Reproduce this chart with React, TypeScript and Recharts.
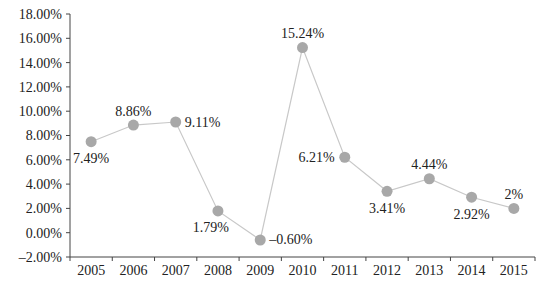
import { LineChart, Line, XAxis, YAxis, LabelList } from 'recharts';

const years = ['2005', '2006', '2007', '2008', '2009', '2010', '2011', '2012', '2013', '2014', '2015'];
const growth = [7.49, 8.86, 9.11, 1.79, -0.6, 15.24, 6.21, 3.41, 4.44, 2.92, 2.0];
const growthLabels = ['7.49%', '8.86%', '9.11%', '1.79%', '–0.60%', '15.24%', '6.21%', '3.41%', '4.44%', '2.92%', '2%'];
const yTicks = [-2, 0, 2, 4, 6, 8, 10, 12, 14, 16, 18];
const yTickLabels = ['–2.00%', '0.00%', '2.00%', '4.00%', '6.00%', '8.00%', '10.00%', '12.00%', '14.00%', '16.00%', '18.00%'];

// where each value label sits relative to its dot
const labelSides = ['bottom', 'top', 'right', 'bottom', 'right', 'top', 'left', 'bottom', 'top', 'bottom', 'top'];

const data = years.map((year, i) => ({ year, value: growth[i] }));

const font = '"Liberation Serif", "DejaVu Serif", serif';
const ink = '#222';
const axisColor = '#444';
const plotLeft = 70;
const plotRight = 535;
const halfBand = (plotRight - plotLeft) / years.length / 2;

function ValueLabel(props: any) {
  const { x, y, index } = props;
  const side = labelSides[index];
  let tx = x;
  let ty = y;
  let anchor: 'start' | 'middle' | 'end' = 'middle';
  if (side === 'top') ty = y - 14;
  if (side === 'bottom') ty = y + 17;
  if (side === 'right') {
    tx = x + 9;
    anchor = 'start';
  }
  if (side === 'left') {
    tx = x - 10;
    anchor = 'end';
  }
  if (index === 3) tx = x - 7;
  return (
    <text x={tx} y={ty} textAnchor={anchor} dominantBaseline="central" fontSize={14} fontFamily={font} fill={ink}>
      {growthLabels[index]}
    </text>
  );
}

// category label plus a tick mark on each band boundary
function YearTick(props: any) {
  const { x, y, payload, index } = props;
  const top = y - 4;
  return (
    <g>
      <line x1={x - halfBand} x2={x - halfBand} y1={top} y2={top + 4} stroke={axisColor} />
      {index === years.length - 1 && (
        <line x1={x + halfBand} x2={x + halfBand} y1={top} y2={top + 4} stroke={axisColor} />
      )}
      <text x={x} y={y + 4} dy="0.71em" textAnchor="middle" fontSize={14} fontFamily={font} fill={ink}>
        {payload.value}
      </text>
    </g>
  );
}

export default function App() {
  return (
    <div style={{ position: 'absolute', left: 0, top: 0, background: '#fff' }}>
      <LineChart width={550} height={282} data={data} margin={{ top: 14, right: 550 - plotRight, bottom: 0, left: 0 }}>
        <XAxis
          dataKey="year"
          padding={{ left: halfBand, right: halfBand }}
          interval={0}
          tickLine={false}
          tickSize={4}
          tickMargin={0}
          axisLine={{ stroke: axisColor }}
          height={25}
          tick={YearTick}
        />
        <YAxis
          domain={[-2, 18]}
          ticks={yTicks}
          width={plotLeft}
          tickSize={4}
          tickMargin={4}
          interval={0}
          axisLine={{ stroke: axisColor }}
          tickLine={{ stroke: axisColor }}
          tickFormatter={(v: number) => yTickLabels[yTicks.indexOf(v)]}
          tick={{ fontSize: 14, fontFamily: font, fill: ink }}
        />
        <Line
          dataKey="value"
          stroke="#c8c8c8"
          strokeWidth={1.2}
          dot={{ r: 5.5, fill: '#a8a8a8', stroke: '#a8a8a8', strokeWidth: 0 }}
          isAnimationActive={false}
        >
          <LabelList dataKey="value" content={ValueLabel} />
        </Line>
      </LineChart>
    </div>
  );
}
